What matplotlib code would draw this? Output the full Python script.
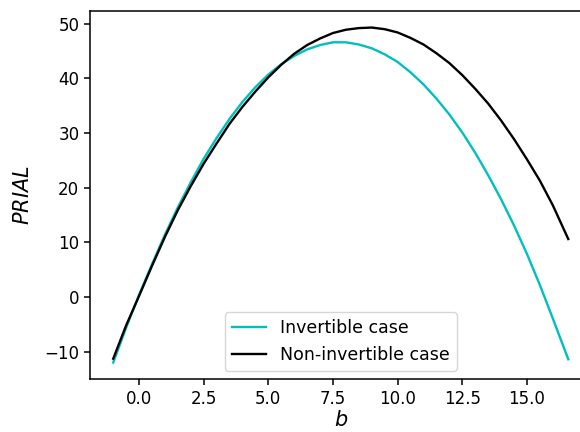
import matplotlib
matplotlib.use("Agg")
import matplotlib.pyplot as plt

# b grid and PRIAL values
b_vals = [-1, -0.5, 0, 0.5, 1, 1.5, 2, 2.5, 3, 3.5, 4, 4.5, 5, 5.5, 6, 6.5, 7, 7.5,
          8, 8.5, 9, 9.5, 10, 10.5, 11, 11.5, 12, 12.5, 13, 13.5, 14, 14.5, 15, 15.5,
          16, 16.6]
prial_invertible = [-12.0, -5.6, 0.4, 6.0, 11.4, 16.4, 21.0, 25.3, 29.1, 32.6, 35.7,
                    38.4, 40.7, 42.6, 44.1, 45.3, 46.1, 46.6, 46.6, 46.2, 45.5, 44.4,
                    43.0, 41.1, 38.9, 36.3, 33.4, 30.1, 26.4, 22.3, 17.9, 13.1, 7.9,
                    2.2, -3.9, -11.4]
prial_noninvertible = [-11.3, -5.2, 0.2, 5.7, 11.0, 15.9, 20.3, 24.4, 28.1, 31.7, 34.8,
                       37.6, 40.2, 42.5, 44.5, 46.1, 47.3, 48.3, 48.9, 49.2, 49.3, 49.0,
                       48.4, 47.4, 46.2, 44.6, 42.8, 40.6, 38.1, 35.4, 32.3, 28.9, 25.2,
                       21.3, 16.8, 10.6]

fig = plt.figure(figsize=(5.8, 4.32), dpi=100)
ax = fig.add_axes([0.156, 0.122, 0.863, 0.853])

ax.plot(b_vals, prial_invertible, color="c", linewidth=1.7, label="Invertible case")
ax.plot(b_vals, prial_noninvertible, color="k", linewidth=1.7, label="Non-invertible case")

ax.set_xticks([0.0, 2.5, 5.0, 7.5, 10.0, 12.5, 15.0])
ax.set_yticks([-10, 0, 10, 20, 30, 40, 50])
ax.tick_params(labelsize=12, width=1.1, length=4.5)
for s in ax.spines.values():
    s.set_linewidth(1.1)
ax.set_xlabel("$b$", fontsize=15, labelpad=1)
ax.set_ylabel("$PRIAL$", fontsize=15, labelpad=8)
ax.legend(loc="lower center", fontsize=12.5)

fig.savefig("out.png", dpi=100)
